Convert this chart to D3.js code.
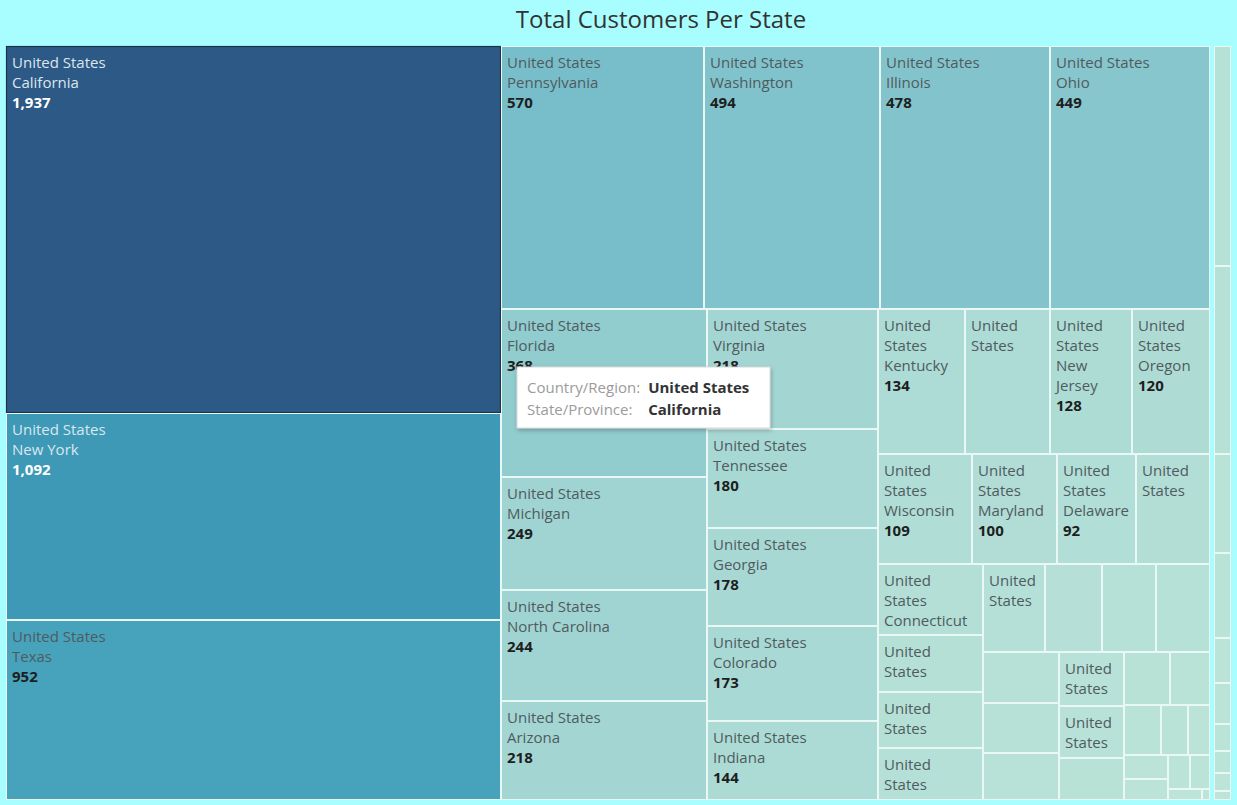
<!DOCTYPE html>
<html>
<head>
<meta charset="utf-8">
<script src="https://cdn.jsdelivr.net/npm/d3@7"></script>
<style>
html, body { margin: 0; padding: 0; background: #a8fefe; }
svg { display: block; }
</style>
</head>
<body>
<svg id="chart" width="1237" height="805"></svg>
<script>
// ---------------- DATA ----------------
const chartTitle = "Total Customers Per State";
const countries = ["United States", "Canada"];

const usStates = [
  "California", "New York", "Texas", "Pennsylvania", "Washington", "Illinois", "Ohio",
  "Florida", "Michigan", "North Carolina", "Arizona", "Virginia", "Tennessee", "Georgia",
  "Colorado", "Indiana", "Kentucky", "Massachusetts", "New Jersey", "Oregon", "Wisconsin",
  "Maryland", "Delaware", "Minnesota", "Connecticut", "Oklahoma", "Missouri", "Alabama",
  "Arkansas", "Rhode Island", "Utah", "Mississippi", "Louisiana", "South Carolina", "Nevada",
  "Nebraska", "New Mexico", "Iowa", "New Hampshire", "Kansas", "Idaho", "Montana",
  "South Dakota", "Vermont", "District of Columbia", "Maine", "North Dakota", "West Virginia", "Wyoming"
];
const usValues = [
  1937, 1092, 952, 570, 494, 478, 449,
  368, 249, 244, 218, 218, 180, 178,
  173, 144, 134, 131, 128, 120, 109,
  100, 92, 86, 80, 63, 63, 58,
  58, 54, 51, 51, 41, 41, 38,
  37, 36, 29, 26, 23, 20, 14,
  12, 11, 10, 8, 7, 4, 1
];

const caProvinces = [
  "Ontario", "Quebec", "British Columbia", "Alberta", "Manitoba",
  "Saskatchewan", "Nova Scotia", "New Brunswick", "Newfoundland and Labrador", "Prince Edward Island"
];
const caValues = [49, 42, 22, 19, 10, 9, 6, 5, 4, 2];

// tooltip shown in the reference (hover on California)
const tooltipLabels = ["Country/Region:", "State/Province:"];
const tooltipValues = ["United States", "California"];

// colour ramp (Tableau Blue-Teal)
const paletteStops = ["#bce4d8", "#97cfd0", "#6eb9c8", "#45a2bb", "#2f8bad", "#2c72a0", "#2c5985"];

// ---------------- BUILD ----------------
const FONT = "'Open Sans', 'Noto Sans', sans-serif";
const FS = 15;
const LINE = 20;
const OX = 6, OY = 46;
const svg = d3.select("#chart");

const data = {
  name: "root",
  children: [
    { name: countries[0], children: usStates.map((s, i) => ({ name: s, value: usValues[i] })) },
    { name: countries[1], children: caProvinces.map((s, i) => ({ name: s, value: caValues[i] })) }
  ]
};

const root = d3.hierarchy(data)
  .sum(d => d.value || 0)
  .sort((a, b) => b.value - a.value);

d3.treemap()
  .tile(d3.treemapSquarify)
  .size([1225, 754])
  .paddingInner(n => n.depth === 0 ? 4 : 0)
  .round(false)(root);

const leaves = root.leaves();
const maxV = d3.max(leaves, d => d.value);
const color = d3.scaleLinear()
  .domain(paletteStops.map((_, i) => maxV * i / (paletteStops.length - 1)))
  .range(paletteStops)
  .interpolate(d3.interpolateRgb);

const fmt = d3.format(",");

// Title
svg.append("text")
  .attr("x", 661)
  .attr("y", 28)
  .attr("text-anchor", "middle")
  .attr("font-family", FONT)
  .attr("font-size", 24)
  .attr("fill", "#333333")
  .text(chartTitle);

// measure helper
const ctx = document.createElement("canvas").getContext("2d");
function tw(t, bold) {
  ctx.font = (bold ? "bold " : "") + FS + "px " + FONT;
  return ctx.measureText(t).width;
}
function wrap(text, bold, avail) {
  const words = text.split(" ");
  const out = [];
  let cur = "";
  for (const w of words) {
    if (tw(w, bold) > avail) return null;
    const trial = cur ? cur + " " + w : w;
    if (tw(trial, bold) <= avail) cur = trial;
    else { out.push(cur); cur = w; }
  }
  if (cur) out.push(cur);
  return out;
}
function labelLines(d) {
  const w = d.x1 - d.x0, h = d.y1 - d.y0;
  const avail = w - 12;
  const maxLines = Math.floor((h - 11) / LINE);
  const fields = [
    { text: d.parent.data.name, bold: false },
    { text: d.data.name, bold: false },
    { text: fmt(d.value), bold: true }
  ];
  const lines = [];
  for (const f of fields) {
    const ls = wrap(f.text, f.bold, avail);
    if (!ls || lines.length + ls.length > maxLines) break;
    ls.forEach(t => lines.push({ text: t, bold: f.bold }));
  }
  return lines;
}

const R = v => Math.round(v);
const plot = svg.append("g").attr("transform", `translate(${OX},${OY})`);
const cells = plot.selectAll("g")
  .data(leaves)
  .join("g");

cells.append("rect")
  .attr("x", d => R(d.x0) + 0.5)
  .attr("y", d => R(d.y0) + 0.5)
  .attr("width", d => Math.max(0, R(d.x1) - R(d.x0) - 1))
  .attr("height", d => Math.max(0, R(d.y1) - R(d.y0) - 1))
  .attr("fill", d => color(d.value))
  .attr("stroke", "#e9f7f5")
  .attr("stroke-width", 1);

// highlighted (hovered) mark
cells.filter(d => d.data.name === tooltipValues[1] && d.parent.data.name === tooltipValues[0])
  .append("rect")
  .attr("x", d => R(d.x0) + 0.5)
  .attr("y", d => R(d.y0) + 0.5)
  .attr("width", d => R(d.x1) - R(d.x0) - 1)
  .attr("height", d => R(d.y1) - R(d.y0) - 1)
  .attr("fill", "none")
  .attr("stroke", "#1d3349")
  .attr("stroke-width", 1.2);

cells.each(function(d) {
  const dark = d3.lab(color(d.value)).l < 61;
  const lines = labelLines(d);
  const g = d3.select(this);
  lines.forEach((ln, i) => {
    g.append("text")
      .attr("x", R(d.x0) + 6)
      .attr("y", R(d.y0) + 21.5 + i * LINE)
      .attr("font-family", FONT)
      .attr("font-size", FS)
      .attr("font-weight", ln.bold ? "bold" : "normal")
      .attr("fill", ln.bold ? (dark ? "#ffffff" : "#1e1e1e") : (dark ? "#dce6ee" : "#4f5b5e"))
      .text(ln.text);
  });
});

// Tooltip overlay
const defs = svg.append("defs");
const f = defs.append("filter").attr("id", "shadow").attr("x", "-10%").attr("y", "-20%").attr("width", "130%").attr("height", "160%");
f.append("feDropShadow").attr("dx", 1).attr("dy", 2).attr("stdDeviation", 2).attr("flood-color", "#000").attr("flood-opacity", 0.25);
const tip = svg.append("g").attr("transform", "translate(517,367)");
tip.append("rect")
  .attr("width", 253).attr("height", 61)
  .attr("fill", "#ffffff")
  .attr("stroke", "#d8d8d8")
  .attr("filter", "url(#shadow)");
const labelW = d3.max(tooltipLabels, t => tw(t, false));
tooltipLabels.forEach((t, i) => {
  tip.append("text")
    .attr("x", 10).attr("y", 26 + i * 22)
    .attr("font-family", FONT).attr("font-size", FS)
    .attr("fill", "#9b9b9b").text(t);
  tip.append("text")
    .attr("x", 10 + labelW + 8).attr("y", 26 + i * 22)
    .attr("font-family", FONT).attr("font-size", FS)
    .attr("font-weight", "bold")
    .attr("fill", "#333333").text(tooltipValues[i]);
});
</script>
</body>
</html>
